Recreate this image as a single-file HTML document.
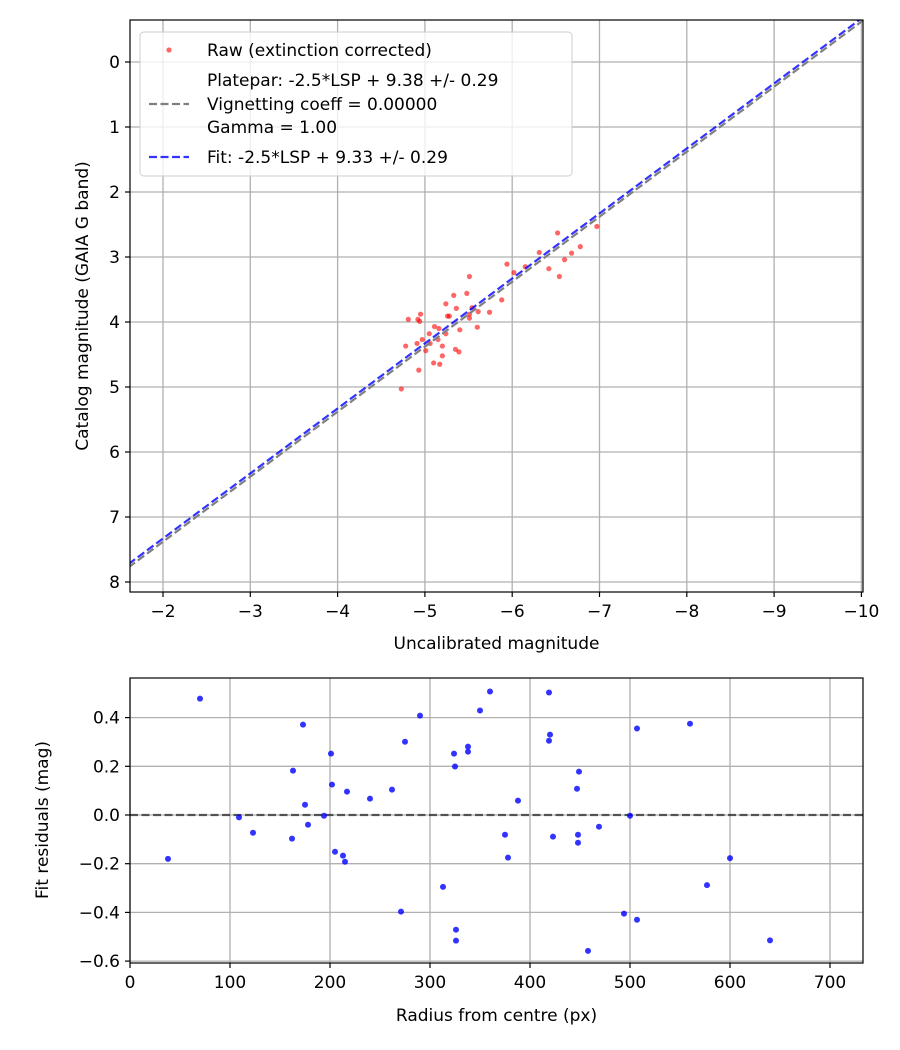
<!DOCTYPE html>
<html><head><meta charset="utf-8"><style>
body{margin:0;background:#fff;}
svg{display:block;font-family:"DejaVu Sans","Liberation Sans",sans-serif;}
</style></head><body>
<svg id="fig" width="900" height="1050" viewBox="0 0 900 1050">
<rect width="900" height="1050" fill="#fff"/>
<g id="topchart"></g>
<g id="botchart"></g>
</svg>
<script>
// Top chart data
const rawX = [-4.73,-4.93,-4.78,-4.81,-4.92,-4.95,-4.94,-4.91,-4.97,-5.01,-5.05,-5.06,-5.11,-5.16,-5.15,-5.10,-5.17,-5.20,-5.20,-5.24,-5.24,-5.26,-5.28,-5.33,-5.36,-5.35,-5.39,-5.40,-5.48,-5.51,-5.51,-5.51,-5.54,-5.61,-5.60,-5.74,-5.88,-5.94,-6.02,-6.15,-6.31,-6.42,-6.52,-6.54,-6.60,-6.68,-6.78,-6.97];
const rawY = [5.03,4.74,4.37,3.96,3.96,3.88,3.99,4.33,4.27,4.44,4.18,4.33,4.07,4.10,4.27,4.63,4.65,4.37,4.52,4.18,3.72,3.91,3.91,3.59,3.79,4.42,4.46,4.12,3.56,3.30,3.88,3.94,3.78,3.84,4.08,3.85,3.66,3.11,3.24,3.15,2.93,3.18,2.63,3.30,3.04,2.94,2.84,2.53];
const plateparOffset = 9.38;
const fitOffset = 9.33;
const topXTicks = [-2,-3,-4,-5,-6,-7,-8,-9,-10];
const topYTicks = [0,1,2,3,4,5,6,7,8];
// Bottom chart data
const resX = [70,38,109,123,162,163,173,175,178,194,201,202,205,213,215,217,240,262,271,275,290,313,324,325,326,326,338,338,350,360,419,420,419,423,375,378,388,449,447,448,448,458,469,494,500,507,507,560,577,600,640];
const resY = [0.478,-0.18,-0.01,-0.073,-0.097,0.182,0.371,0.042,-0.040,-0.003,0.252,0.125,-0.151,-0.167,-0.192,0.096,0.067,0.104,-0.397,0.301,0.408,-0.295,0.252,0.199,-0.471,-0.516,0.281,0.260,0.429,0.507,0.503,0.330,0.305,-0.089,-0.081,-0.175,0.059,0.178,0.108,-0.081,-0.114,-0.558,-0.048,-0.405,-0.003,0.355,-0.430,0.375,-0.288,-0.177,-0.515];
const botXTicks = [0,100,200,300,400,500,600,700];
const botYTicks = [0.4,0.2,0.0,-0.2,-0.4,-0.6];

const NS='http://www.w3.org/2000/svg';
function mk(parent,tag,attrs,text){const e=document.createElementNS(NS,tag);for(const k in attrs)e.setAttribute(k,attrs[k]);if(text!==undefined)e.textContent=text;parent.appendChild(e);return e;}
const minus=v=>String(v).replace('-','\u2212');

// ---- top chart ----
const T={l:130,r:863,t:20,b:592};
const tx=v=>163+(-2-v)*87.3;
const ty=v=>62+v*65;
const topG=document.getElementById('topchart');
const tclip=mk(topG,'clipPath',{id:'tclip'});mk(tclip,'rect',{x:T.l,y:T.t,width:T.r-T.l,height:T.b-T.t});
topXTicks.forEach(v=>{
 const g=mk(topG,'line',{x1:tx(v),x2:tx(v),y1:T.t,y2:T.b,stroke:'#b0b0b0','stroke-width':1.3});
 
 
 mk(topG,'line',{x1:tx(v),x2:tx(v),y1:T.b,y2:T.b+5,stroke:'#000','stroke-width':1.2});
 const t=mk(topG,'text',{x:tx(v),y:T.b+25,'font-size':17,'text-anchor':'middle'},minus(v));
 
 
});
topYTicks.forEach(v=>{
 const g=mk(topG,'line',{x1:T.l,x2:T.r,y1:ty(v),y2:ty(v),stroke:'#b0b0b0','stroke-width':1.3});
 
 
 mk(topG,'line',{x1:T.l-5,x2:T.l,y1:ty(v),y2:ty(v),stroke:'#000','stroke-width':1.2});
 const t=mk(topG,'text',{x:T.l-10,y:ty(v)+6,'font-size':17,'text-anchor':'end'},String(v));
 
 
});
const tg=mk(topG,'g',{'clip-path':'url(#tclip)'});
rawX.forEach((x,i)=>{
 const c=mk(tg,'circle',{cx:tx(x),cy:ty(rawY[i]),r:2.6,fill:'rgba(255,0,0,0.6)'});
 
 
});
const xa=-1.5,xb=-10.2;
const pl=mk(tg,'line',{x1:tx(xa),y1:ty(xa+plateparOffset),x2:tx(xb),y2:ty(xb+plateparOffset),stroke:'#808080','stroke-width':2.2,'stroke-dasharray':'8,3.5'});


const fl=mk(tg,'line',{x1:tx(xa),y1:ty(xa+fitOffset),x2:tx(xb),y2:ty(xb+fitOffset),stroke:'rgba(0,0,255,0.8)','stroke-width':2.2,'stroke-dasharray':'8,3.5'});


mk(topG,'rect',{x:T.l,y:T.t,width:T.r-T.l,height:T.b-T.t,fill:'none',stroke:'#000','stroke-width':1.2});
// legend
const lg=mk(topG,'g',{});


mk(lg,'rect',{x:140,y:32,width:432,height:144,rx:4,fill:'rgba(255,255,255,0.8)',stroke:'#ccc','stroke-width':1});
mk(lg,'circle',{cx:169,cy:50,r:2.6,fill:'rgba(255,0,0,0.6)'});
mk(lg,'text',{x:207,y:56,'font-size':17},'Raw (extinction corrected)');
mk(lg,'line',{x1:149,x2:189,y1:104,y2:104,stroke:'#808080','stroke-width':2.2,'stroke-dasharray':'8,3.5'});
mk(lg,'text',{x:207,y:86,'font-size':17},'Platepar: -2.5*LSP + 9.38 +/- 0.29');
mk(lg,'text',{x:207,y:110,'font-size':17},'Vignetting coeff = 0.00000');
mk(lg,'text',{x:207,y:133,'font-size':17},'Gamma = 1.00');
mk(lg,'line',{x1:149,x2:189,y1:157,y2:157,stroke:'rgba(0,0,255,0.8)','stroke-width':2.2,'stroke-dasharray':'8,3.5'});
mk(lg,'text',{x:207,y:163,'font-size':17},'Fit: -2.5*LSP + 9.33 +/- 0.29');
const xt=mk(topG,'text',{x:(T.l+T.r)/2,y:649,'font-size':17,'text-anchor':'middle'},'Uncalibrated magnitude');


const yt=mk(topG,'text',{x:0,y:0,'font-size':17,'text-anchor':'middle',transform:'translate(88,306) rotate(-90)'},'Catalog magnitude (GAIA G band)');



// ---- bottom chart ----
const B={l:130,r:863,t:678,b:963};
const bx=v=>130+v*1.0;
const by=v=>815-v*243.5;
const botG=document.getElementById('botchart');
const bclip=mk(botG,'clipPath',{id:'bclip'});mk(bclip,'rect',{x:B.l,y:B.t,width:B.r-B.l,height:B.b-B.t});
botXTicks.forEach(v=>{
 const g=mk(botG,'line',{x1:bx(v),x2:bx(v),y1:B.t,y2:B.b,stroke:'#b0b0b0','stroke-width':1.3});
 
 
 mk(botG,'line',{x1:bx(v),x2:bx(v),y1:B.b,y2:B.b+5,stroke:'#000','stroke-width':1.2});
 const t=mk(botG,'text',{x:bx(v),y:B.b+25,'font-size':17,'text-anchor':'middle'},String(v));
 
 
});
botYTicks.forEach(v=>{
 const g=mk(botG,'line',{x1:B.l,x2:B.r,y1:by(v),y2:by(v),stroke:'#b0b0b0','stroke-width':1.3});
 
 
 mk(botG,'line',{x1:B.l-5,x2:B.l,y1:by(v),y2:by(v),stroke:'#000','stroke-width':1.2});
 const t=mk(botG,'text',{x:B.l-10,y:by(v)+6,'font-size':17,'text-anchor':'end'},minus(v.toFixed(1)));
 
 
});
const bg=mk(botG,'g',{'clip-path':'url(#bclip)'});
const zl=mk(bg,'line',{x1:B.l,x2:B.r,y1:by(0),y2:by(0),stroke:'rgba(0,0,0,0.6)','stroke-width':2.2,'stroke-dasharray':'8,3.5'});


resX.forEach((x,i)=>{
 const c=mk(bg,'circle',{cx:bx(x),cy:by(resY[i]),r:3,fill:'rgba(0,0,255,0.8)'});
 
 
});
mk(botG,'rect',{x:B.l,y:B.t,width:B.r-B.l,height:B.b-B.t,fill:'none',stroke:'#000','stroke-width':1.2});
const bxt=mk(botG,'text',{x:(B.l+B.r)/2,y:1021,'font-size':17,'text-anchor':'middle'},'Radius from centre (px)');


const byt=mk(botG,'text',{x:0,y:0,'font-size':17,'text-anchor':'middle',transform:'translate(48,820) rotate(-90)'},'Fit residuals (mag)');


</script>
</body></html>
